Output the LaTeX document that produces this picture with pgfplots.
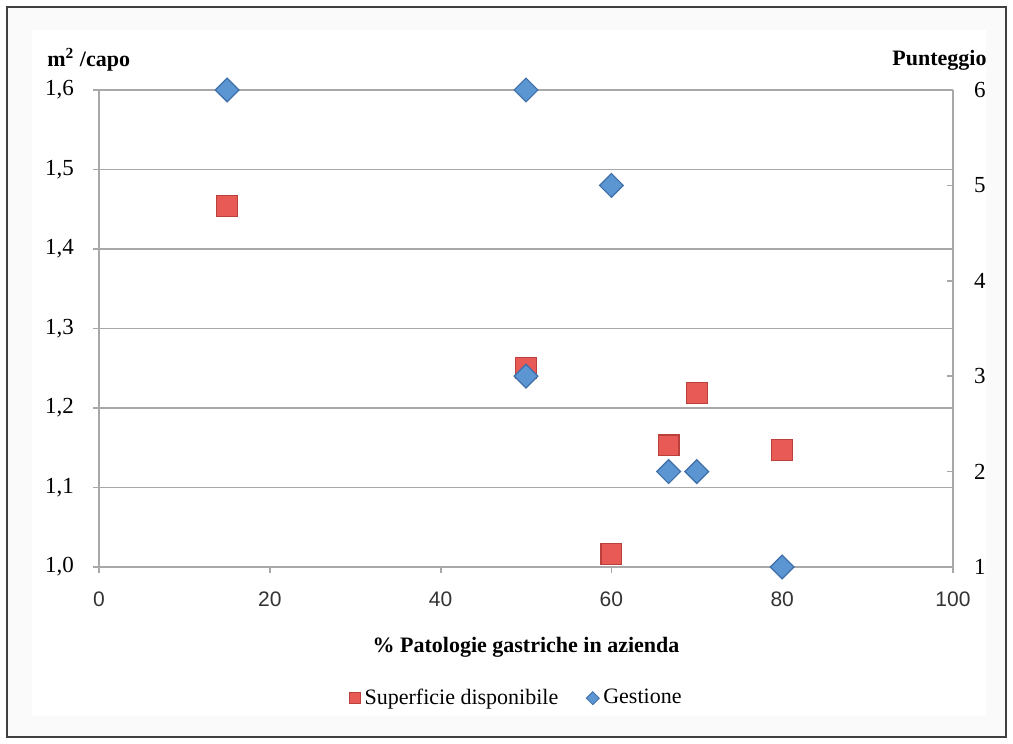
\documentclass[border=0pt]{standalone}
\usepackage{fontspec}
\setmainfont{Liberation Serif}
\newfontfamily\sansf{Liberation Sans}
\usepackage{pgfplots}
\pgfplotsset{compat=1.18}
\definecolor{sqfill}{HTML}{E85A56}
\definecolor{sqdraw}{HTML}{B9403D}
\definecolor{dmfill}{HTML}{5B95D2}
\definecolor{dmdraw}{HTML}{3F6FA8}
\definecolor{gridc}{HTML}{A8A8A8}
\definecolor{bgc}{HTML}{FAFAFA}
\begin{document}
\begin{tikzpicture}
\fill[white] (0,0) rectangle (506.5pt,372pt);
\fill[bgc] (3.5pt,3.5pt) rectangle (503pt,368.5pt);
\fill[white] (16pt,14pt) rectangle (493pt,357pt);
\draw[black!75, line width=1pt] (3.5pt,3.5pt) rectangle (503pt,368.5pt);
\begin{axis}[
  at={(49.5pt,88.5pt)}, anchor=south west,
  scale only axis, width=427pt, height=238.5pt,
  xmin=0, xmax=100, ymin=1, ymax=1.6,
  xtick={0,20,40,60,80,100},
  ytick={1.0,1.1,1.2,1.3,1.4,1.5,1.6},
  axis x line*=bottom, axis y line*=left,
  axis line style={gridc, line width=0.9pt},
  ymajorgrids, grid style={gridc, line width=0.9pt},
  tick style={gridc, line width=0.9pt}, tick align=outside,
  major tick length=3pt,
  /pgf/number format/assume math mode=true,
  yticklabel style={/pgf/number format/fixed, /pgf/number format/fixed zerofill, /pgf/number format/precision=1, /pgf/number format/use comma, font=\fontsize{11.5}{13}\selectfont, xshift=-6pt},
  xticklabel style={font=\sansf\fontsize{10.5}{12}\selectfont, text=black!80, yshift=-6pt},
  clip=false,
]
\addplot[only marks, mark=square*, mark size=5.2pt,
  mark options={fill=sqfill, draw=sqdraw, line width=0.6pt}]
  coordinates {(15,1.454) (50,1.250) (70,1.219) (66.7,1.153) (80,1.147) (60,1.016)};
\end{axis}
\begin{axis}[
  at={(49.5pt,88.5pt)}, anchor=south west,
  scale only axis, width=427pt, height=238.5pt,
  xmin=0, xmax=100, ymin=1, ymax=6,
  ytick={1,2,3,4,5,6},
  axis x line=none, axis y line*=right,
  axis line style={gridc, line width=0.9pt},
  tick style={gridc, line width=0.9pt}, tick align=inside,
  major tick length=3pt,
  /pgf/number format/assume math mode=true,
  yticklabel style={font=\fontsize{11.5}{13}\selectfont, xshift=7pt},
  clip=false,
  legend style={at={(0.49,-0.275)}, anchor=center, draw=none, fill=none,
    legend columns=2, font=\fontsize{11}{13}\selectfont,
    /tikz/every even column/.append style={column sep=12pt}},
  legend cell align=left,
]
\addlegendimage{only marks, mark=square*, mark size=2.8pt, mark options={fill=sqfill, draw=sqdraw, line width=0.4pt}}
\addlegendentry{Superficie disponibile}
\addlegendimage{only marks, mark=square*, mark size=2.3pt, mark options={rotate=45, fill=dmfill, draw=dmdraw, line width=0.4pt}}
\addlegendentry{Gestione}
\addplot[only marks, mark=square*, mark size=4.2pt, forget plot,
  mark options={rotate=45, fill=dmfill, draw=dmdraw, line width=0.6pt}]
  coordinates {(15,6) (50,6) (60,5) (50,3) (66.7,2) (70,2) (80,1)};
\end{axis}
\node[anchor=west, inner sep=0pt] at (23.5pt,342pt) {\fontsize{11}{13}\selectfont\textbf{m\textsuperscript{2} /capo}};
\node[anchor=east, inner sep=0pt] at (493.5pt,342pt) {\fontsize{11}{13}\selectfont\textbf{Punteggio}};
\node[inner sep=0pt] at (263pt,48.5pt) {\fontsize{11}{13}\selectfont\textbf{\% Patologie gastriche in azienda}};
\end{tikzpicture}
\end{document}
